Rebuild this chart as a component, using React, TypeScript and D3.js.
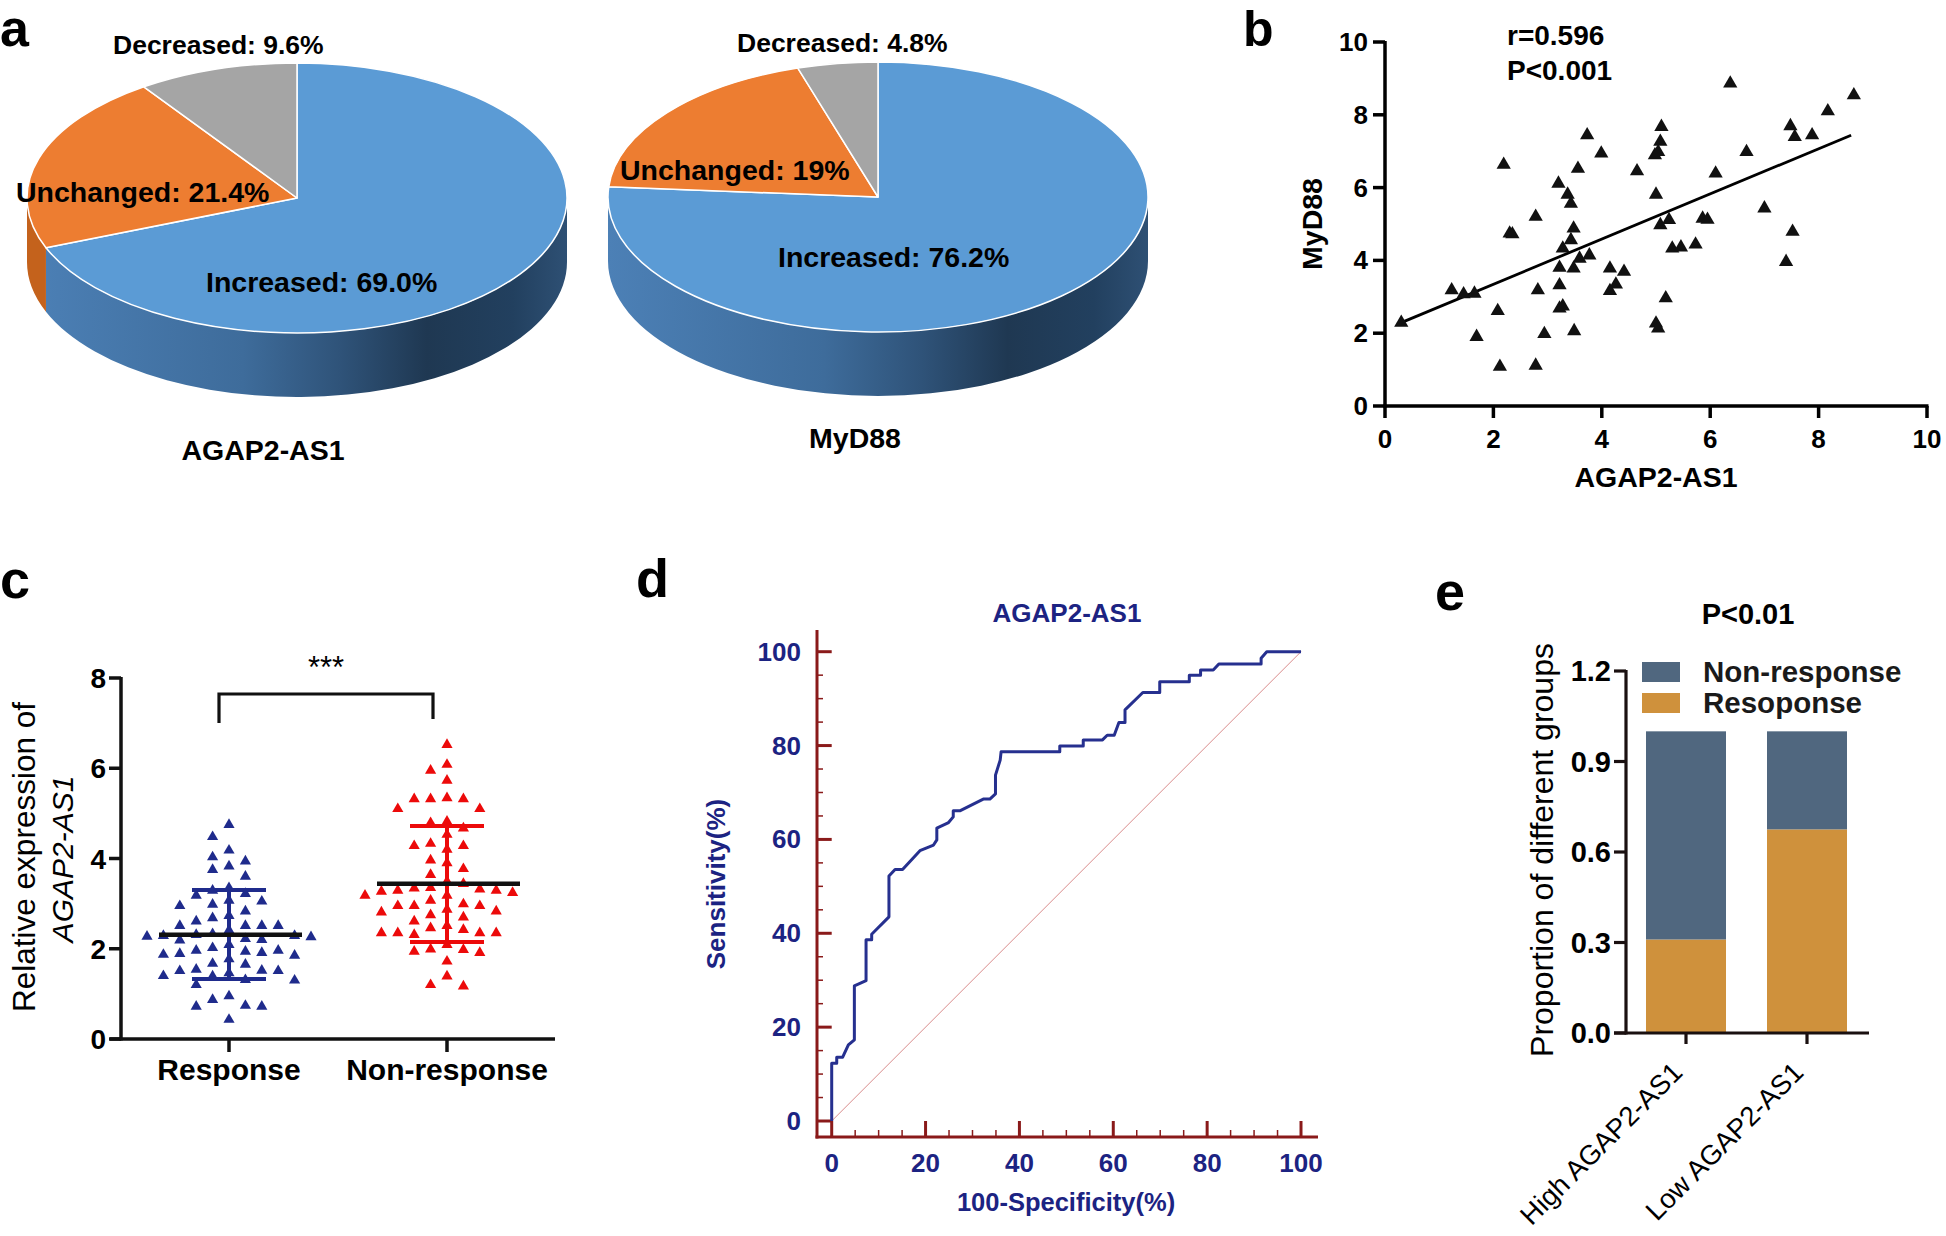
import React from "react";
import * as d3 from "d3";

const FONT = "'Liberation Sans', Arial, Helvetica, sans-serif";

// ---------- Panel a : 3D pies ----------
const pieCategories = ["Increased", "Unchanged", "Decreased"];
const agapShares = [69.0, 21.4, 9.6];
const myd88Shares = [76.2, 19, 4.8];
const agapLabels = ["Increased: 69.0%", "Unchanged: 21.4%", "Decreased: 9.6%"];
const myd88Labels = ["Increased: 76.2%", "Unchanged: 19%", "Decreased: 4.8%"];
const pieTitles = ["AGAP2-AS1", "MyD88"];

// ---------- Panel b : scatter ----------
const scatterAgap = [0.30, 1.23, 1.45, 1.65, 1.69, 2.08, 2.12, 2.19, 2.30, 2.35, 2.78, 2.78, 2.82, 2.94, 3.20, 3.22, 3.22, 3.22, 3.28, 3.28, 3.37, 3.43, 3.43, 3.48, 3.48, 3.49, 3.56, 3.59, 3.73, 3.77, 3.99, 4.15, 4.15, 4.26, 4.41, 4.65, 5.00, 4.98, 5.04, 5.00, 5.04, 5.08, 5.10, 5.08, 5.18, 5.24, 5.30, 5.46, 5.73, 5.86, 5.95, 6.10, 6.37, 6.67, 7.00, 7.40, 7.48, 7.52, 7.56, 7.88, 8.17, 8.65];
const scatterMyd88 = [2.29, 3.18, 3.07, 3.09, 1.90, 2.61, 1.08, 6.63, 4.74, 4.72, 5.20, 1.11, 3.18, 1.98, 6.11, 3.80, 3.32, 2.68, 2.74, 4.33, 5.81, 5.56, 4.56, 4.88, 3.78, 2.06, 6.52, 4.05, 7.44, 4.14, 6.94, 3.78, 3.16, 3.34, 3.69, 6.45, 5.81, 6.89, 6.98, 2.27, 2.13, 7.26, 7.67, 4.97, 2.96, 5.11, 4.33, 4.36, 4.44, 5.15, 5.12, 6.39, 8.86, 6.98, 5.43, 3.96, 7.69, 4.79, 7.39, 7.44, 8.10, 8.54];
const fitAgap = [0.3, 8.6];
const fitMyd88 = [2.29, 7.44];
const scatterTicks = [0, 2, 4, 6, 8, 10];

// ---------- Panel c : dot plot ----------
const groupNames = ["Response", "Non-response"];
const responseExpr = [4.75, 4.48, 4.18, 3.94, 4.03, 3.83, 3.75, 3.60, 3.35, 3.29, 3.22, 3.18, 3.05, 3.07, 2.98, 2.95, 2.83, 2.73, 2.68, 2.61, 2.51, 2.51, 2.51, 2.51, 2.41, 2.33, 2.31, 2.29, 2.20, 2.26, 2.19, 2.22, 2.29, 2.27, 2.09, 1.96, 1.94, 1.87, 1.77, 1.89, 1.85, 1.91, 1.96, 2.02, 1.65, 1.67, 1.54, 1.51, 1.46, 1.39, 1.30, 1.20, 1.40, 1.51, 1.52, 1.31, 0.95, 0.87, 0.72, 0.72, 0.74, 0.43];
const nonResponseExpr = [6.52, 6.08, 5.95, 5.73, 5.34, 5.32, 5.32, 5.32, 5.10, 5.10, 4.79, 4.82, 4.67, 4.53, 4.28, 4.20, 4.28, 4.33, 3.90, 3.96, 3.77, 3.64, 3.49, 3.44, 3.32, 3.29, 3.27, 3.18, 3.07, 3.35, 3.18, 3.24, 3.29, 3.34, 2.95, 2.95, 2.83, 2.75, 2.70, 2.81, 2.87, 2.95, 2.99, 2.61, 2.46, 2.35, 2.35, 2.31, 2.35, 2.35, 2.42, 2.51, 2.09, 1.98, 1.91, 1.94, 1.99, 1.72, 1.39, 1.17, 1.20];
const groupMean = [2.31, 3.44];
const groupSdHigh = [3.30, 4.72];
const groupSdLow = [1.33, 2.15];
const exprTicks = [0, 2, 4, 6, 8];

// ---------- Panel d : ROC ----------
const rocFpr = [0, 0, 1.07, 1.07, 2.34, 3.55, 4.83, 4.83, 7.32, 7.32, 8.52, 8.52, 12.2, 12.2, 13.5, 15.1, 18.8, 21.7, 22.4, 22.4, 24.9, 25.9, 25.9, 27.3, 32.3, 33.7, 34.9, 34.9, 35.9, 36.1, 48.6, 48.6, 53.6, 53.6, 57.7, 58.7, 60.2, 61.2, 62.5, 62.5, 66.3, 69.9, 69.9, 76.2, 76.2, 78.6, 78.6, 81.3, 82.5, 91.5, 91.5, 92.7, 100];
const rocTpr = [0, 12.3, 12.3, 13.6, 13.6, 16.2, 17.3, 28.8, 29.9, 38.6, 38.6, 39.8, 43.5, 52.2, 53.6, 53.6, 57.6, 58.8, 59.9, 62.4, 63.6, 64.8, 66.1, 66.1, 68.6, 68.6, 69.7, 73.7, 76.9, 78.7, 78.7, 79.9, 79.9, 81.2, 81.2, 82.2, 82.2, 84.9, 84.9, 87.6, 91.3, 91.3, 93.6, 93.6, 95.0, 95.0, 96.1, 96.1, 97.4, 97.4, 98.6, 100, 100];
const rocMajorTicks = [0, 20, 40, 60, 80, 100];

// ---------- Panel e : stacked proportions ----------
const propGroups = ["High AGAP2-AS1", "Low AGAP2-AS1"];
const propResponse = [0.31, 0.675];
const propNonResponse = [0.69, 0.325];
const propTicks = [0, 0.3, 0.6, 0.9, 1.2];
const propLegend = ["Non-response", "Resoponse"];

// ---------- helpers ----------
function tri(size: number) {
  return d3.symbol().type(d3.symbolTriangle).size(size)() as string;
}

function swarmColumns(vals: number[], y: (v: number) => number, minDy: number): number[] {
  const order = vals.map((_, i) => i).sort((a, b) => vals[b] - vals[a]);
  const placed: { col: number; y: number }[] = [];
  const cols = new Array(vals.length).fill(0);
  for (const i of order) {
    const py = y(vals[i]);
    for (let k = 0; k < 60; k++) {
      const col = k === 0 ? 0 : k % 2 === 1 ? -Math.ceil(k / 2) : Math.ceil(k / 2);
      if (!placed.some((p) => p.col === col && Math.abs(p.y - py) < minDy)) {
        cols[i] = col;
        placed.push({ col, y: py });
        break;
      }
    }
  }
  return cols;
}

type PieProps = {
  cx: number; cy: number; rx: number; ry: number; depth: number;
  values: number[]; gradId: string;
  labels: string[]; labelPos: [number, number, number][];
  title: string; titlePos: [number, number];
};

const pieTop = ["#5b9bd5", "#ed7d31", "#a5a5a5"];

function Pie3D(p: PieProps) {
  const { cx, cy, rx, ry, depth } = p;
  const arcs = d3.pie<number>().sort(null).value((d) => d)(p.values);
  const P = (a: number, dy = 0): [number, number] => [cx + rx * Math.sin(a), cy - ry * Math.cos(a) + dy];
  const sideFill = [`url(#${p.gradId})`, "#c4621c", "#808080"];
  const sides: React.ReactNode[] = [];
  arcs.forEach((a, i) => {
    const s = Math.max(a.startAngle, Math.PI / 2);
    const e = Math.min(a.endAngle, (3 * Math.PI) / 2);
    if (e > s) {
      const [x0, y0] = P(s);
      const [x1, y1] = P(e);
      const d = `M${x0},${y0} A${rx},${ry} 0 0 1 ${x1},${y1} L${x1},${y1 + depth} A${rx},${ry} 0 0 0 ${x0},${y0 + depth} Z`;
      sides.push(<path key={"s" + i} d={d} fill={sideFill[i]} />);
    }
  });
  const tops = arcs.map((a, i) => {
    const [x0, y0] = P(a.startAngle);
    const [x1, y1] = P(a.endAngle);
    const large = a.endAngle - a.startAngle > Math.PI ? 1 : 0;
    const d = `M${cx},${cy} L${x0},${y0} A${rx},${ry} 0 ${large} 1 ${x1},${y1} Z`;
    return <path key={"t" + i} d={d} fill={pieTop[i]} stroke="#ffffff" strokeWidth={1.5} strokeLinejoin="round" />;
  });
  return (
    <g>
      <defs>
        <linearGradient id={p.gradId} gradientUnits="userSpaceOnUse" x1={cx - rx} x2={cx + rx} y1={0} y2={0}>
          <stop offset="0" stopColor="#4c80b6" />
          <stop offset="0.4" stopColor="#3e6c9b" />
          <stop offset="0.58" stopColor="#2f5379" />
          <stop offset="0.74" stopColor="#1f3852" />
          <stop offset="0.9" stopColor="#22405f" />
          <stop offset="1" stopColor="#2e5074" />
        </linearGradient>
      </defs>
      {sides}
      {tops}
      {p.labels.map((t, i) => (
        <text key={"l" + i} x={p.labelPos[i][0]} y={p.labelPos[i][1]} fontSize={p.labelPos[i][2]} fontWeight="bold" fontFamily={FONT} fill="#000">
          {t}
        </text>
      ))}
      <text x={p.titlePos[0]} y={p.titlePos[1]} textAnchor="middle" fontSize={28.5} fontWeight="bold" fontFamily={FONT}>
        {p.title}
      </text>
    </g>
  );
}

export default function App() {
  // ----- panel b scales
  const bx = d3.scaleLinear().domain([0, 10]).range([1385, 1927]);
  const by = d3.scaleLinear().domain([0, 10]).range([406, 42]);

  // ----- panel c scales
  const cx = d3.scalePoint<string>().domain(groupNames).range([229, 447]);
  const cy = d3.scaleLinear().domain([0, 8]).range([1039, 678]);
  const colStep = 16.4;
  const respCols = swarmColumns(responseExpr, cy, 12.5);
  const nonCols = swarmColumns(nonResponseExpr, cy, 12.5);

  // ----- panel d scales
  const dx = d3.scaleLinear().domain([0, 100]).range([831.7, 1301]);
  const dy = d3.scaleLinear().domain([0, 100]).range([1121, 651.7]);
  const rocLine = d3.line<number>().x((d) => dx(d)).y((_, i) => dy(rocTpr[i]));
  const rocMinor = d3.range(0, 101, 5).filter((v) => v % 20 !== 0);
  const dAxisX = 817;
  const dAxisY = 1137;
  const navy = "#1c2382";
  const axisRed = "#8a1a1a";

  // ----- panel e scales
  const ex = d3.scalePoint<string>().domain(propGroups).range([1686, 1807]);
  const ey = d3.scaleLinear().domain([0, 1.2]).range([1033, 671]);
  const barW = 80;
  const nonRespColor = "#50677f";
  const respColor = "#cf913c";

  const blue = "#1f2b8c";
  const red = "#ec0a0a";

  return (
    <svg width={1946} height={1236} style={{ position: "absolute", left: 0, top: 0, background: "#fff" }} fontFamily={FONT}>
      <rect x={0} y={0} width={1946} height={1236} fill="#fff" />

      {/* ---------- Panel a ---------- */}
      <text x={0} y={46} fontSize={52} fontWeight="bold">a</text>
      <Pie3D
        cx={297} cy={198} rx={270} ry={135} depth={64} values={agapShares} gradId="gA"
        labels={agapLabels}
        labelPos={[[206, 292, 28.5], [16, 202, 28.5], [113, 54, 26.5]]}
        title={pieTitles[0]} titlePos={[263, 460]}
      />
      <Pie3D
        cx={878} cy={197} rx={270} ry={135} depth={64} values={myd88Shares} gradId="gB"
        labels={myd88Labels}
        labelPos={[[778, 267, 28.5], [620, 180, 28.5], [737, 52, 26.5]]}
        title={pieTitles[1]} titlePos={[855, 448]}
      />

      {/* ---------- Panel b ---------- */}
      <text x={1243} y={46} fontSize={50} fontWeight="bold">b</text>
      <g stroke="#000" strokeWidth={3.5} fill="none">
        <line x1={bx(0)} x2={bx(0)} y1={by(10) - 1} y2={by(0) + 1.5} />
        <line x1={bx(0) - 1.5} x2={bx(10) + 1.5} y1={by(0)} y2={by(0)} />
        {scatterTicks.map((t) => (
          <line key={"byt" + t} x1={bx(0) - 12} x2={bx(0)} y1={by(t)} y2={by(t)} />
        ))}
        {scatterTicks.map((t) => (
          <line key={"bxt" + t} x1={bx(t)} x2={bx(t)} y1={by(0)} y2={by(0) + 12} />
        ))}
      </g>
      {scatterTicks.map((t) => (
        <text key={"byl" + t} x={bx(0) - 17} y={by(t) + 9} textAnchor="end" fontSize={26} fontWeight="bold">{t}</text>
      ))}
      {scatterTicks.map((t) => (
        <text key={"bxl" + t} x={bx(t)} y={448} textAnchor="middle" fontSize={26} fontWeight="bold">{t}</text>
      ))}
      <text x={1656} y={487} textAnchor="middle" fontSize={28.5} fontWeight="bold">AGAP2-AS1</text>
      <text transform={`translate(1322,224) rotate(-90)`} textAnchor="middle" fontSize={28.5} fontWeight="bold">MyD88</text>
      <text x={1507} y={45} fontSize={28} fontWeight="bold">r=0.596</text>
      <text x={1507} y={80} fontSize={28} fontWeight="bold">P&lt;0.001</text>
      <line x1={bx(fitAgap[0])} y1={by(fitMyd88[0])} x2={bx(fitAgap[1])} y2={by(fitMyd88[1])} stroke="#000" strokeWidth={2.8} />
      {scatterAgap.map((v, i) => (
        <path key={"bp" + i} d={tri(88)} transform={`translate(${bx(v)},${by(scatterMyd88[i])})`} fill="#111" />
      ))}

      {/* ---------- Panel c ---------- */}
      <text x={0} y={598} fontSize={54} fontWeight="bold">c</text>
      <g stroke="#111" strokeWidth={3.5}>
        <line x1={121} x2={121} y1={cy(8) - 1} y2={cy(0) + 1.5} />
        <line x1={110} x2={555} y1={cy(0)} y2={cy(0)} />
        {exprTicks.map((t) => (
          <line key={"cyt" + t} x1={109} x2={121} y1={cy(t)} y2={cy(t)} />
        ))}
        {groupNames.map((g) => (
          <line key={"cxt" + g} x1={cx(g)!} x2={cx(g)!} y1={cy(0)} y2={1052} />
        ))}
      </g>
      {exprTicks.map((t) => (
        <text key={"cyl" + t} x={106} y={cy(t) + 10} textAnchor="end" fontSize={28} fontWeight="bold">{t}</text>
      ))}
      {groupNames.map((g) => (
        <text key={"cxl" + g} x={cx(g)!} y={1080} textAnchor="middle" fontSize={30} fontWeight="bold">{g}</text>
      ))}
      <text transform="translate(35,857) rotate(-90)" textAnchor="middle" fontSize={31.5}>Relative expression of</text>
      <text transform="translate(73,859) rotate(-90)" textAnchor="middle" fontSize={30} fontStyle="italic">AGAP2-AS1</text>
      <path d={`M219,723 L219,694 L433,694 L433,719`} fill="none" stroke="#111" strokeWidth={3.2} />
      <text x={326} y={678} textAnchor="middle" fontSize={31}>***</text>
      {responseExpr.map((v, i) => (
        <path key={"cr" + i} d={tri(54)} transform={`translate(${cx(groupNames[0])! + respCols[i] * colStep},${cy(v)})`} fill={blue} />
      ))}
      {nonResponseExpr.map((v, i) => (
        <path key={"cn" + i} d={tri(54)} transform={`translate(${cx(groupNames[1])! + nonCols[i] * colStep},${cy(v)})`} fill={red} />
      ))}
      {groupNames.map((g, i) => {
        const x = cx(g)!;
        const col = i === 0 ? blue : red;
        return (
          <g key={"cs" + g}>
            <line x1={x} x2={x} y1={cy(groupSdHigh[i])} y2={cy(groupSdLow[i])} stroke={col} strokeWidth={4} />
            <line x1={x - 37} x2={x + 37} y1={cy(groupSdHigh[i])} y2={cy(groupSdHigh[i])} stroke={col} strokeWidth={4} />
            <line x1={x - 37} x2={x + 37} y1={cy(groupSdLow[i])} y2={cy(groupSdLow[i])} stroke={col} strokeWidth={4} />
            <line x1={x - 70} x2={x + 73} y1={cy(groupMean[i])} y2={cy(groupMean[i])} stroke="#111" strokeWidth={4.5} />
          </g>
        );
      })}

      {/* ---------- Panel d ---------- */}
      <text x={636} y={597} fontSize={54} fontWeight="bold">d</text>
      <text x={1067} y={622} textAnchor="middle" fontSize={26} fontWeight="bold" fill={navy}>AGAP2-AS1</text>
      <g stroke={axisRed}>
        <line x1={dAxisX} x2={dAxisX} y1={630} y2={dAxisY + 1.5} strokeWidth={3} />
        <line x1={dAxisX - 1.5} x2={1318} y1={dAxisY} y2={dAxisY} strokeWidth={3} />
        {rocMajorTicks.map((t) => (
          <line key={"dym" + t} x1={dAxisX} x2={dx(0)} y1={dy(t)} y2={dy(t)} strokeWidth={3} />
        ))}
        {rocMinor.map((t) => (
          <line key={"dyn" + t} x1={dAxisX} x2={dAxisX + 6} y1={dy(t)} y2={dy(t)} strokeWidth={1.5} />
        ))}
        {rocMajorTicks.map((t) => (
          <line key={"dxm" + t} x1={dx(t)} x2={dx(t)} y1={dAxisY} y2={dy(0)} strokeWidth={3} />
        ))}
        {rocMinor.map((t) => (
          <line key={"dxn" + t} x1={dx(t)} x2={dx(t)} y1={dAxisY} y2={dAxisY - 7} strokeWidth={1.5} />
        ))}
      </g>
      {rocMajorTicks.map((t) => (
        <text key={"dyl" + t} x={801} y={dy(t) + 9} textAnchor="end" fontSize={26} fontWeight="bold" fill={navy}>{t}</text>
      ))}
      {rocMajorTicks.map((t) => (
        <text key={"dxl" + t} x={dx(t)} y={1172} textAnchor="middle" fontSize={26} fontWeight="bold" fill={navy}>{t}</text>
      ))}
      <text x={1066} y={1211} textAnchor="middle" fontSize={25.5} fontWeight="bold" fill={navy}>100-Specificity(%)</text>
      <text transform="translate(725,884) rotate(-90)" textAnchor="middle" fontSize={26} fontWeight="bold" fill={navy}>Sensitivity(%)</text>
      <line x1={dx(0)} y1={dy(0)} x2={dx(100)} y2={dy(100)} stroke="#d98c8c" strokeWidth={1} />
      <path d={rocLine(rocFpr) as string} fill="none" stroke="#26308f" strokeWidth={3} strokeLinejoin="round" />

      {/* ---------- Panel e ---------- */}
      <text x={1435} y={610} fontSize={54} fontWeight="bold">e</text>
      <text x={1748} y={624} textAnchor="middle" fontSize={29} fontWeight="bold">P&lt;0.01</text>
      {propGroups.map((g, i) => (
        <g key={"eb" + g}>
          <rect x={ex(g)! - barW / 2} y={ey(propResponse[i])} width={barW} height={ey(0) - ey(propResponse[i])} fill={respColor} />
          <rect x={ex(g)! - barW / 2} y={ey(propResponse[i] + propNonResponse[i])} width={barW} height={ey(propResponse[i]) - ey(propResponse[i] + propNonResponse[i])} fill={nonRespColor} />
        </g>
      ))}
      <g stroke="#1a1010" strokeWidth={3.2}>
        <line x1={1626} x2={1626} y1={ey(1.2) - 1} y2={ey(0) + 1.5} />
        <line x1={1614} x2={1869} y1={ey(0)} y2={ey(0)} />
        {propTicks.map((t) => (
          <line key={"eyt" + t} x1={1614} x2={1626} y1={ey(t)} y2={ey(t)} />
        ))}
        {propGroups.map((g) => (
          <line key={"ext" + g} x1={ex(g)!} x2={ex(g)!} y1={ey(0)} y2={ey(0) + 11} />
        ))}
      </g>
      {propTicks.map((t) => (
        <text key={"eyl" + t} x={1611} y={ey(t) + 10} textAnchor="end" fontSize={29} fontWeight="bold">{t.toFixed(1)}</text>
      ))}
      <rect x={1642} y={662} width={38} height={20} fill={nonRespColor} />
      <rect x={1642} y={693} width={38} height={20} fill={respColor} />
      <text x={1703} y={682} fontSize={29.5} fontWeight="bold" fill="#1a1a1a">{propLegend[0]}</text>
      <text x={1703} y={713} fontSize={29.5} fontWeight="bold" fill="#1a1a1a">{propLegend[1]}</text>
      <text transform="translate(1553,850) rotate(-90)" textAnchor="middle" fontSize={32}>Proportion of different groups</text>
      {propGroups.map((g) => (
        <text key={"exl" + g} transform={`translate(${ex(g)! - 2},1074) rotate(-45)`} textAnchor="end" fontSize={27.5}>{g}</text>
      ))}
    </svg>
  );
}
